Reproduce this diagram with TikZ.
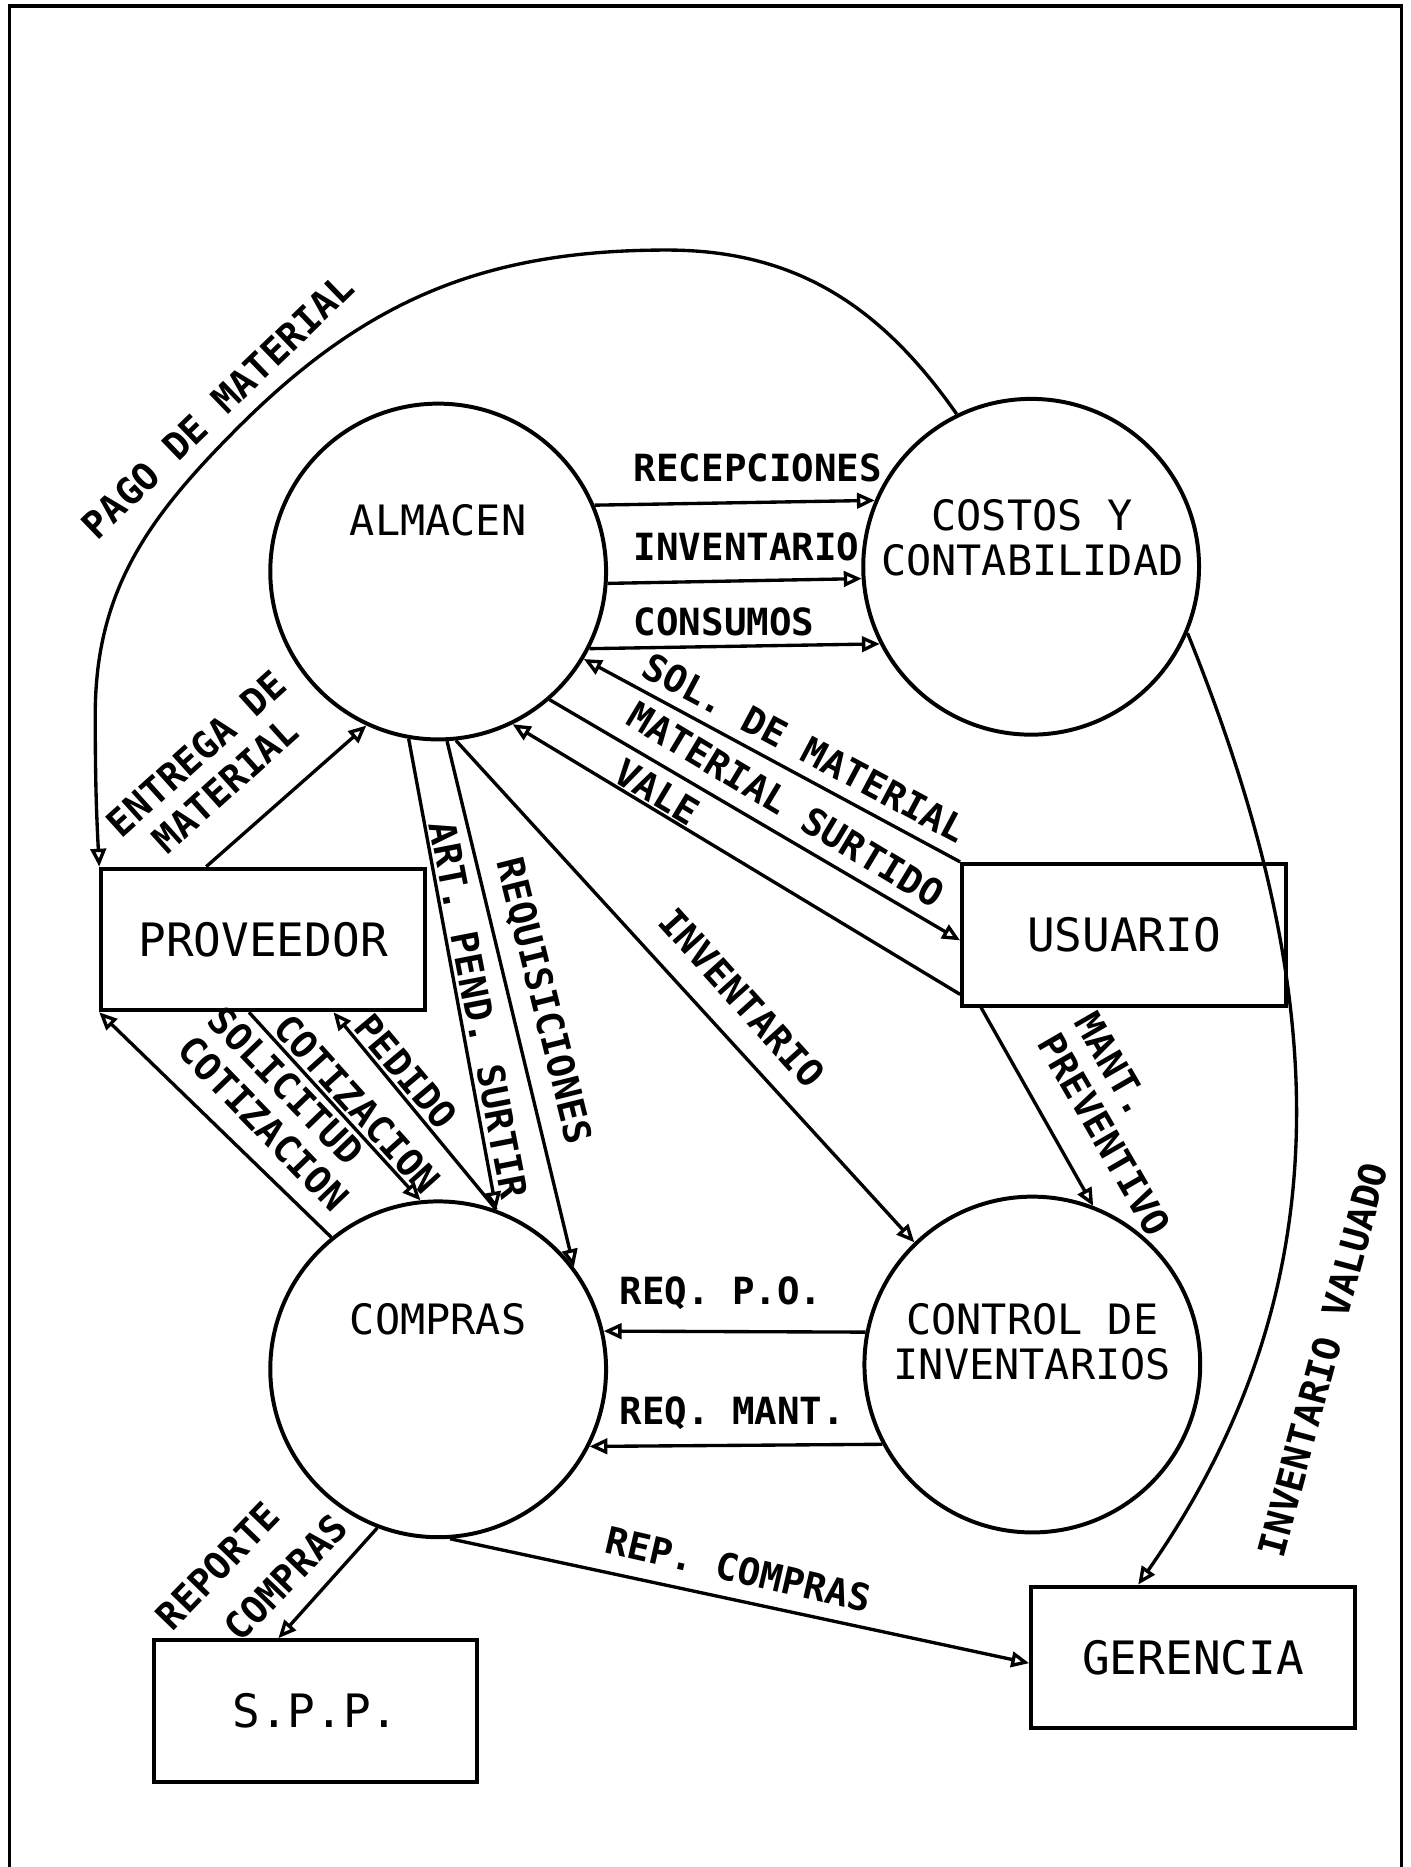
\documentclass[tikz,border=0pt]{standalone}
\usepackage{fontspec}
\newfontfamily\plotfont{DejaVu Sans Mono}
\usetikzlibrary{arrows.meta}

\begin{document}
\begin{tikzpicture}[x=0.2mm, y=0.2mm,
    proc/.style={draw, circle, line width=1.9pt, minimum size=56.4mm, inner sep=0pt},
    ent/.style={draw, rectangle, line width=1.9pt, minimum width=54.4mm, minimum height=23.8mm,
      inner sep=0pt, font=\plotfont\fontsize{22}{24}\selectfont},
    ptxt/.style={font=\plotfont\fontsize{20}{21.5}\selectfont, align=center, inner sep=0pt},
    lbl/.style={font=\plotfont\bfseries\fontsize{17.9}{20.5}\selectfont, inner sep=0pt},
    flow/.style={line width=1.6pt, -{Triangle[open, length=3mm, width=2.6mm]}}]
  \useasboundingbox (0,0) rectangle (1185,-1568);

  % Frame
  \draw[line width=1.6pt] (8,-1568) -- (8,-5) -- (1177,-5) -- (1177,-1568);

  % Processes
  \node[proc] (almacen) at (368,-480) {};
  \node[proc] (costos) at (866,-476) {};
  \node[proc] (compras) at (368,-1150) {};
  \node[proc] (control) at (867,-1146) {};
  \node[ptxt] (almacenTxt) at (368,-437) {ALMACEN};
  \node[ptxt] (costosTxt) at (867,-452) {COSTOS Y\\CONTABILIDAD};
  \node[ptxt] (comprasTxt) at (368,-1108) {COMPRAS};
  \node[ptxt] (controlTxt) at (867,-1127) {CONTROL DE\\INVENTARIOS};

  % External entities
  \node[ent] (prov) at (221,-789) {PROVEEDOR};
  \node[ent] (usuario) at (944,-785) {USUARIO};
  \node[ent] (spp) at (265,-1437) {S.P.P.};
  \node[ent] (gerencia) at (1002,-1392) {GERENCIA};

  % Waypoints of the payment arc
  \coordinate (pagoTop) at (560,-210);
  \coordinate (pagoMid) at (200,-359);
  \coordinate (pagoLeft) at (80,-600);

  % Flows
  \draw[flow] (almacen.23) -- (costos.157);
  \draw[flow] (almacen.-4) -- (costos.184);
  \draw[flow] (almacen.-27) -- (costos.207);
  \draw[flow] (usuario.north west) -- (almacen.-31);
  \draw[flow] (almacen.-49) -- (usuario.182);
  \draw[flow] (usuario.200) -- (almacen.-64);
  \draw[flow] (prov.128) -- (almacen.-115);
  \draw[flow] (almacen.-100) -- (compras.70);
  \draw[flow] (almacen.-87) -- (compras.37);
  \draw[flow] (almacen.-84) -- (control.134);
  \draw[flow] (usuario.-153) -- (control.69);
  \draw[flow] (compras.70) -- (prov.-46);
  \draw[flow] (prov.-101) -- (compras.96);
  \draw[flow] (compras.129) -- (prov.south west);
  \draw[flow] (control.169) -- (compras.13);
  \draw[flow] (control.208) -- (compras.-27);
  \draw[flow] (compras.-86) -- (gerencia.182);
  \draw[flow] (compras.-111) -- (spp.117);
  \draw[flow] (costos.-23) to[out=-68, in=55] (gerencia.127);
  \draw[flow] (costos.116) to[out=125, in=0] (pagoTop) to[out=180, in=45] (pagoMid)
    to[out=225, in=90] (pagoLeft) to[out=-90, in=93] (prov.north west);

  % Flow labels
  \node[lbl, anchor=west] (lRecep) at (532,-393) {RECEPCIONES};
  \node[lbl, anchor=west] (lInv) at (532,-459) {INVENTARIO};
  \node[lbl, anchor=west] (lCons) at (532,-522) {CONSUMOS};
  \node[lbl, rotate=-28] (lSol) at (676,-628) {SOL. DE MATERIAL};
  \node[lbl, rotate=-31] (lSurt) at (660,-676) {MATERIAL SURTIDO};
  \node[lbl, rotate=-31] (lVale) at (552,-665) {VALE};
  \node[lbl, rotate=42, align=center] (lEntrega) at (177,-646) {ENTREGA DE\\MATERIAL};
  \node[lbl, rotate=44] (lPago) at (183,-341) {PAGO DE MATERIAL};
  \node[lbl, rotate=-79] (lArt) at (402,-848) {ART. PEND. SURTIR};
  \node[lbl, rotate=-76] (lRequi) at (456,-841) {REQUISICIONES};
  \node[lbl, rotate=-48] (lInvDiag) at (623,-838) {INVENTARIO};
  \node[lbl, rotate=-60, align=left] (lMant) at (943,-944) {MANT.\\PREVENTIVO};
  \node[lbl, rotate=-50] (lPedido) at (341,-900) {PEDIDO};
  \node[lbl, rotate=-48] (lCotiz) at (300,-927) {COTIZACION};
  \node[lbl, rotate=-46, align=left] (lSolCot) at (234,-931) {SOLICITUD\\COTIZACION};
  \node[lbl, anchor=west] (lReqPO) at (520,-1086) {REQ. P.O.};
  \node[lbl, anchor=west] (lReqMant) at (520,-1187) {REQ. MANT.};
  \node[lbl, rotate=-13] (lRep) at (620,-1318) {REP. COMPRAS};
  \node[lbl, rotate=46] (lReporte) at (183,-1315) {REPORTE};
  \node[lbl, rotate=46] (lRepCompras) at (240,-1325) {COMPRAS};
  \node[lbl, rotate=75] (lValuado) at (1111,-1142) {INVENTARIO VALUADO};
\end{tikzpicture}
\end{document}
